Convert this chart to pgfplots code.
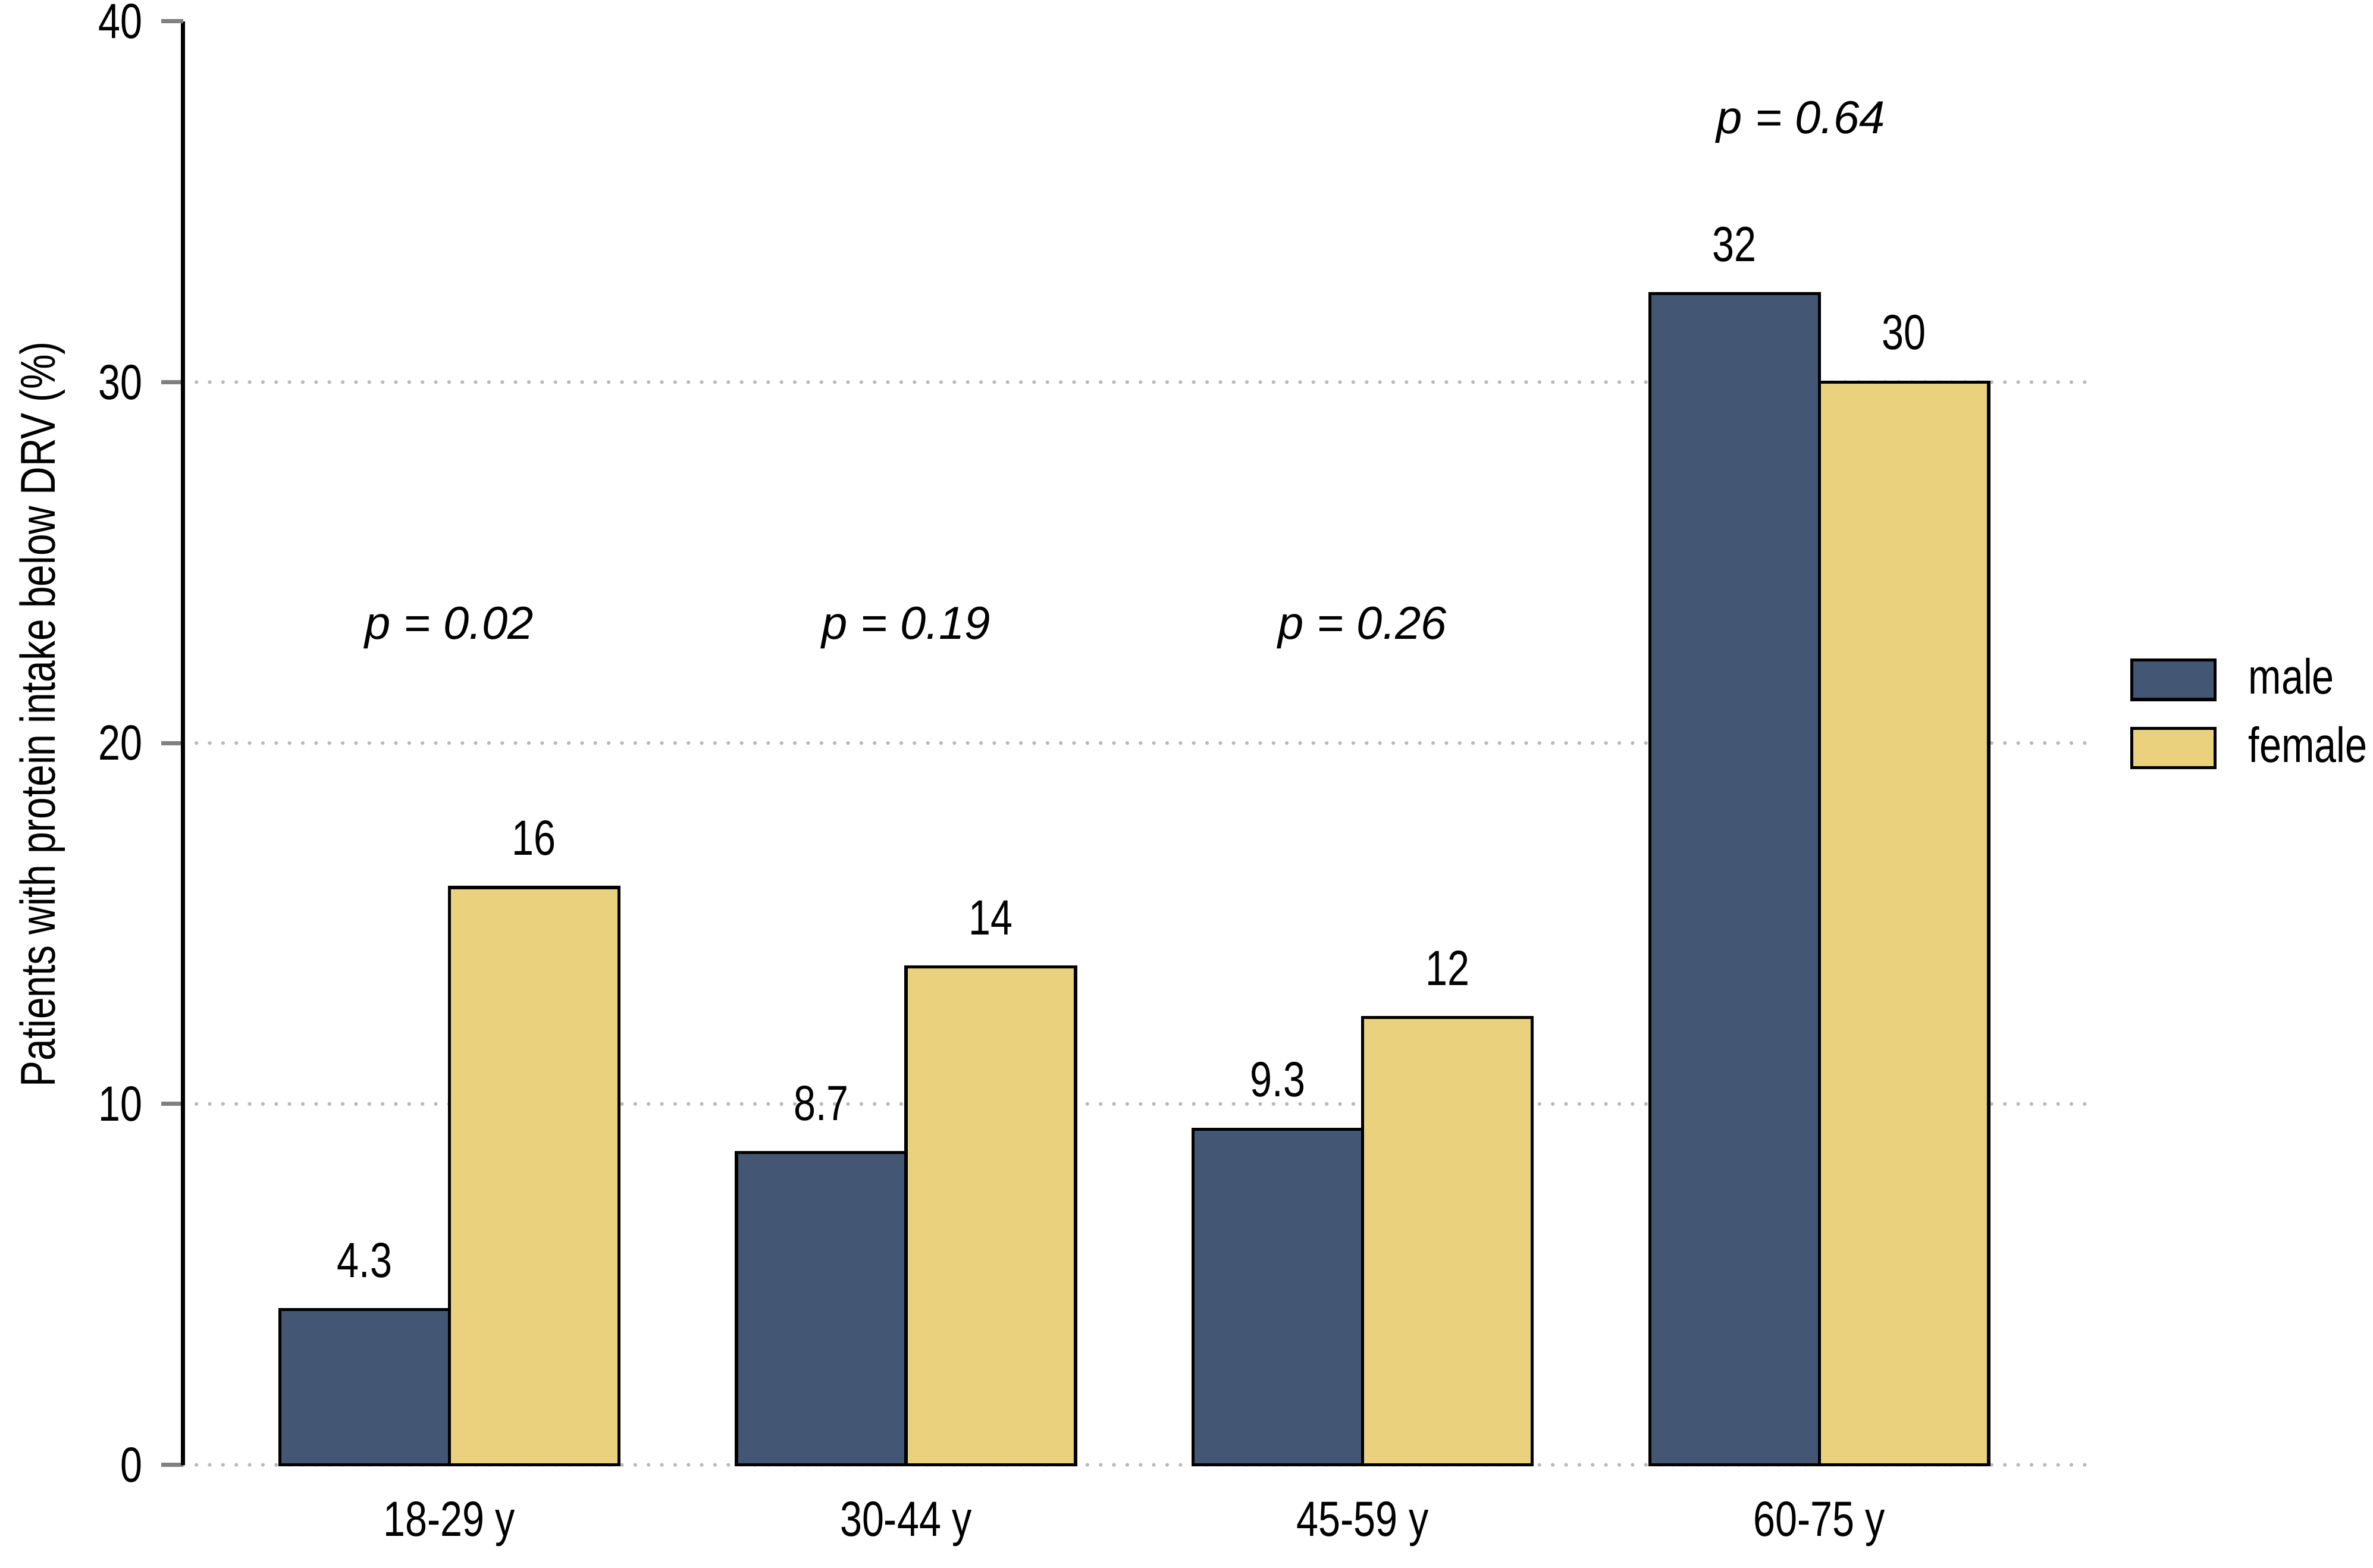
\documentclass[border=0pt]{standalone}
\usepackage{fontspec}
\setmainfont{Liberation Sans}[FakeStretch=0.80]
\newfontfamily\pfont{Liberation Sans}
\usepackage{pgfplots}
\usepackage{pgfplotstable}
\pgfplotsset{compat=1.18}
\definecolor{malec}{HTML}{435673}
\definecolor{femalec}{HTML}{E9D17E}

\pgfplotstableread{
x y lab
0 4.3 4.3
1 8.65 8.7
2 9.3 9.3
3 32.45 32
}\maletab

\pgfplotstableread{
x y lab
0 16.0 16
1 13.8 14
2 12.4 12
3 30.0 30
}\femaletab

\begin{document}
\begin{tikzpicture}[font=\fontsize{9.3}{11}\selectfont]
\begin{axis}[
  name=ax,
  scale only axis,
  width=125.7mm, height=95.4mm,
  xmin=-0.583, xmax=3.583, ymin=0, ymax=40,
  ybar=0pt, bar width=11.2mm,
  axis x line*=bottom, axis y line*=left,
  x axis line style={draw=none},
  y axis line style={line width=0.75pt, black},
  xtick={0,1,2,3},
  xticklabels={18-29 y,30-44 y,45-59 y,60-75 y},
  xtick style={draw=none},
  xticklabel style={yshift=0.7pt},
  ytick={0,10,20,30},
  extra y ticks={40},
  extra y tick style={grid=none},
  ymajorgrids,
  grid style={gray!55, line width=0.7pt, dash pattern=on 0pt off 2.5pt, line cap=round},
  ytick style={gray, line width=0.8pt},
  ytick align=outside,
  major tick length=1.45mm,
  /pgf/number format/assume math mode=true,
  ylabel={Patients with protein intake below DRV (\%)},
  ylabel style={at={(axis description cs:-0.074,0.52)}, anchor=center, font=\fontsize{9.2}{11}\selectfont},
  nodes near coords,
  point meta=explicit symbolic,
  every node near coord/.append style={anchor=south, inner sep=0pt, yshift=5.7pt, black},
  legend style={at={(axis description cs:1.023,0.5597)}, anchor=north west,
    draw=none, fill=none, inner sep=0pt, row sep=4.6pt, column sep=2.1mm,
    nodes={inner sep=0pt, anchor=west}},
  legend cell align=left,
  legend image code/.code={\draw[#1] (0mm,-1.3mm) rectangle (5.5mm,1.3mm);},
  clip=false,
]
\addplot[fill=malec, draw=black, line width=0.6pt] table[x=x, y=y, meta=lab]{\maletab};
\addplot[fill=femalec, draw=black, line width=0.6pt] table[x=x, y=y, meta=lab]{\femaletab};
\legend{male, female}
\node[font=\pfont\itshape\fontsize{8.7}{10}\selectfont] at (axis cs:0,23.2) {p = 0.02};
\node[font=\pfont\itshape\fontsize{8.7}{10}\selectfont] at (axis cs:1,23.2) {p = 0.19};
\node[font=\pfont\itshape\fontsize{8.7}{10}\selectfont] at (axis cs:2,23.2) {p = 0.26};
\node[font=\pfont\itshape\fontsize{8.7}{10}\selectfont] at (axis cs:2.96,37.2) {p = 0.64};
\end{axis}
\pgfresetboundingbox
\path[use as bounding box] ([shift={(-12.1mm,-6.8mm)}]ax.south west) rectangle ([shift={(19.0mm,1.4mm)}]ax.north east);
\end{tikzpicture}
\end{document}
